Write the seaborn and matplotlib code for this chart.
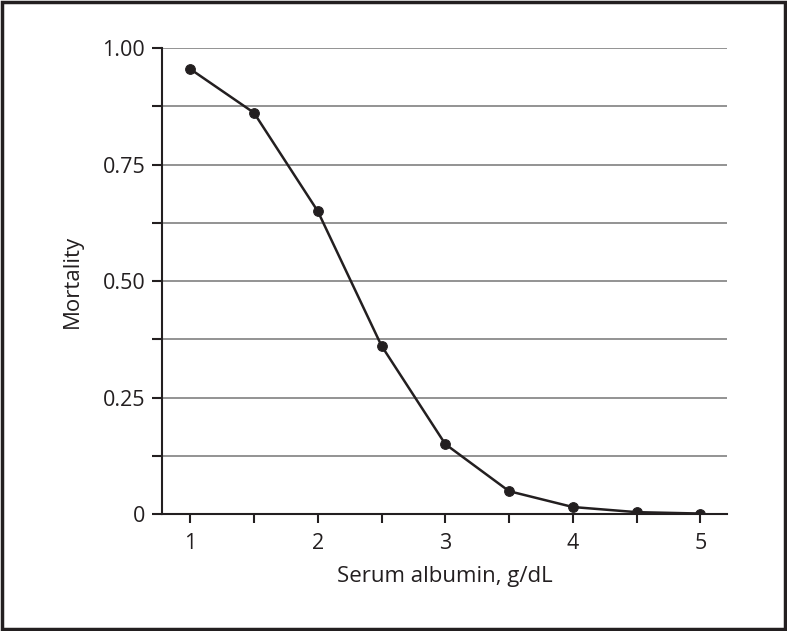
import numpy as np
import pandas as pd
import seaborn as sns
import matplotlib.pyplot as plt
from matplotlib.patches import Rectangle

# Data
albumin = [1.0, 1.5, 2.0, 2.5, 3.0, 3.5, 4.0, 4.5, 5.0]
mortality = [0.955, 0.861, 0.650, 0.361, 0.150, 0.049, 0.015, 0.004, 0.001]

y_ticks = [0, 0.25, 0.50, 0.75, 1.00]
y_tick_labels = ["0", "0.25", "0.50", "0.75", "1.00"]
x_ticks = [1, 2, 3, 4, 5]

df = pd.DataFrame({"albumin": albumin, "mortality": mortality})

sns.set_theme(style="white")
plt.rcParams['font.family'] = ['Open Sans', 'DejaVu Sans']
ink = "#231f20"

fig = plt.figure(figsize=(7.87, 6.31), dpi=100)
ax = fig.add_axes([0.206, 0.1854, 0.718, 0.7385])

# horizontal grid lines every 0.125
for g in np.arange(0.125, 1.001, 0.125):
    ax.axhline(g, color="#8a8a8a", lw=1.3, zorder=0)

sns.lineplot(data=df, x="albumin", y="mortality", ax=ax, color=ink, lw=1.8,
             marker="o", markersize=7, markeredgecolor=ink, markerfacecolor=ink, zorder=3)

ax.set_xlim(0.78, 5.21)
ax.set_ylim(0, 1.0)
ax.set_yticks(y_ticks)
ax.set_yticks(np.arange(0.125, 1.0, 0.25), minor=True)
ax.set_yticklabels(y_tick_labels)
ax.set_xticks(x_ticks)
ax.set_xticks(np.arange(1.5, 5.0, 1.0), minor=True)
ax.set_xticklabels([str(x) for x in x_ticks])

for s in ["top", "right"]:
    ax.spines[s].set_visible(False)
for s in ["left", "bottom"]:
    ax.spines[s].set_color(ink)
    ax.spines[s].set_linewidth(1.5)
ax.spines["left"].set_bounds(0, 1.0)

ax.tick_params(axis="y", which="both", direction="out", length=7.2, width=1.5,
               color=ink, left=True, labelsize=15.5, labelcolor=ink, pad=5)
ax.tick_params(axis="x", which="both", direction="out", length=6.5, width=1.5,
               color=ink, bottom=True, labelsize=15.5, labelcolor=ink, pad=7)

ax.set_xlabel("Serum albumin, g/dL", fontsize=16, color=ink, labelpad=9)
ax.set_ylabel("Mortality", fontsize=16, color=ink, labelpad=14)

# figure border
fig.patches.append(Rectangle((0.002, 0.003), 0.996, 0.994, transform=fig.transFigure,
                             fill=False, edgecolor=ink, lw=2.5))

plt.savefig("out.png", dpi=100)
